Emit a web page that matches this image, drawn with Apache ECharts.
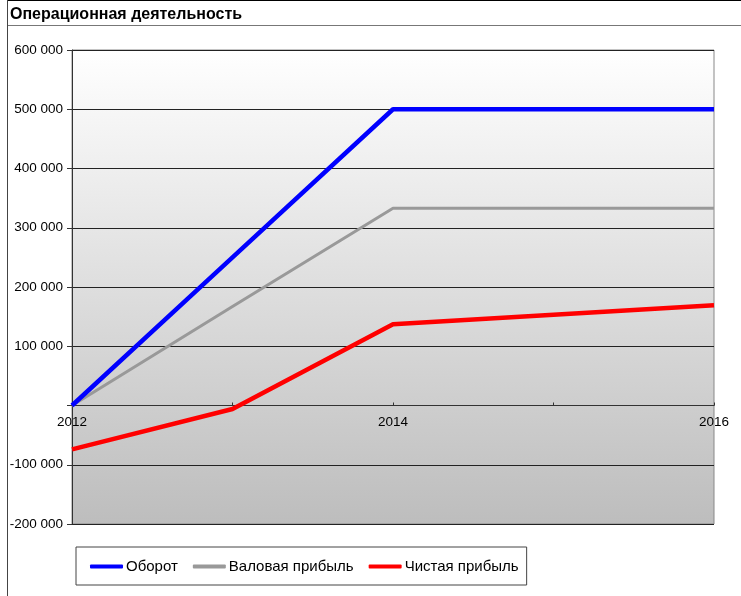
<!DOCTYPE html>
<html><head><meta charset="utf-8">
<script src="https://cdn.jsdelivr.net/npm/echarts@6/dist/echarts.min.js"></script>
<style>html,body{margin:0;padding:0;background:#fff}#c{width:741px;height:596px}</style>
</head><body><div id="c"></div>
<script>
var years = ['2012', '2013', '2014', '2015', '2016'];
var seriesNames = ['Оборот', 'Валовая прибыль', 'Чистая прибыль'];
var turnover = [0, 250000, 500000, 500000, 500000];
var grossProfit = [0, 167000, 333000, 333000, 333000];
var netProfit = [-74000, -6000, 137000, 153000, 169000];
var yMin = -200000, yMax = 600000, yStep = 100000;
var titleText = 'Операционная деятельность';

var chart = echarts.init(document.getElementById('c'));
var font = '"Liberation Sans", Arial, sans-serif';
function fmt(v){ if (v === 0) return ''; var s = Math.abs(v).toString().replace(/\B(?=(\d{3})+(?!\d))/g, ' '); return (v<0?'-':'') + s; }
var gridTop = 50, gridBottom = 72, gridH = 596 - gridTop - gridBottom;
var zeroOffset = -gridH * (0 - yMin) / (yMax - yMin);
chart.setOption({
  animation: false,
  backgroundColor: '#fff',
  textStyle: { fontFamily: font },
  graphic: [
    { type: 'line', shape: { x1: 7, y1: 0.5, x2: 741, y2: 0.5 }, style: { stroke: '#000', lineWidth: 1 } },
    { type: 'line', shape: { x1: 7, y1: 25.5, x2: 741, y2: 25.5 }, style: { stroke: '#777', lineWidth: 1 } },
    { type: 'line', shape: { x1: 7.5, y1: 0, x2: 7.5, y2: 596 }, style: { stroke: '#444', lineWidth: 1 } },
    { type: 'text', left: 10, top: 7, style: { text: titleText, font: 'bold 16px ' + font, fill: '#000' } }
  ],
  grid: {
    left: 72, right: 27, top: gridTop, bottom: gridBottom,
    show: true, borderColor: '#888', borderWidth: 1,
    backgroundColor: { type: 'linear', x: 0, y: 0, x2: 0, y2: 1, colorStops: [{ offset: 0, color: '#ffffff' }, { offset: 1, color: '#bdbdbd' }] }
  },
  legend: {
    left: 76, top: 547,
    padding: [12, 8, 11, 14],
    borderColor: '#444', borderWidth: 1,
    itemWidth: 33, itemHeight: 4, itemGap: 15,
    icon: 'roundRect',
    textStyle: { fontSize: 15, color: '#000', fontFamily: font, padding: [0, 0, 0, -2] },
    data: seriesNames
  },
  xAxis: {
    type: 'category', data: years, boundaryGap: false,
    offset: zeroOffset,
    axisLine: { onZero: false, lineStyle: { color: '#333', width: 1 } },
    axisTick: { show: true, inside: true, interval: 0, length: 3, lineStyle: { color: '#333' } },
    axisLabel: { interval: 1, color: '#000', fontSize: 13.5, fontFamily: font, margin: 10 },
    splitLine: { show: false }
  },
  yAxis: {
    type: 'value', min: yMin, max: yMax, interval: yStep,
    axisLine: { show: true, lineStyle: { color: '#333' } },
    axisTick: { show: true, length: 5, lineStyle: { color: '#333' } },
    axisLabel: { color: '#000', fontSize: 13.5, fontFamily: font, margin: 9, formatter: fmt },
    splitLine: { show: true, lineStyle: { color: '#222', width: 1 } }
  },
  series: [
    { name: seriesNames[0], type: 'line', data: turnover, showSymbol: false, symbol: 'none', lineStyle: { color: '#0000ff', width: 4.5 }, itemStyle: { color: '#0000ff' }, z: 4 },
    { name: seriesNames[1], type: 'line', data: grossProfit, showSymbol: false, symbol: 'none', lineStyle: { color: '#999999', width: 3 }, itemStyle: { color: '#999999' }, z: 3 },
    { name: seriesNames[2], type: 'line', data: netProfit, showSymbol: false, symbol: 'none', lineStyle: { color: '#ff0000', width: 4.5 }, itemStyle: { color: '#ff0000' }, z: 5 }
  ]
});
</script></body></html>
